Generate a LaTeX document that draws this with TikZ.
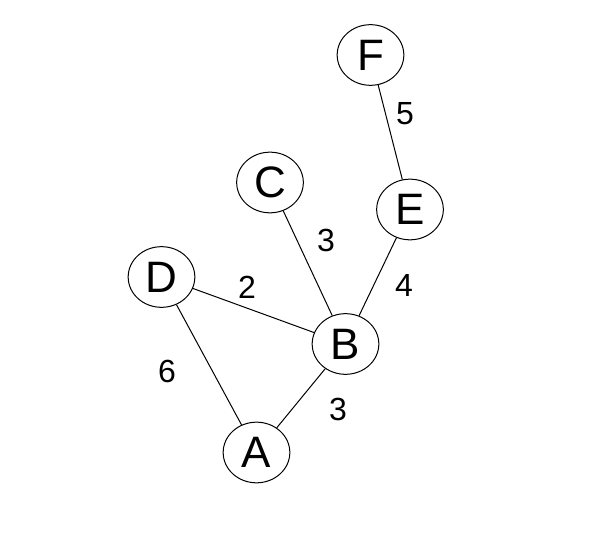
\documentclass[tikz,border=0pt]{standalone}
\usepackage{fontspec}
\setmainfont{Liberation Sans}
\usetikzlibrary{shapes.geometric}
\begin{document}
\begin{tikzpicture}[x=0.75pt,y=-0.75pt,
  vertex/.style={ellipse,draw,line width=0.75pt,minimum width=50pt,minimum height=45.5pt,inner sep=0pt,font=\fontsize{33}{33}\selectfont},
  wlabel/.style={inner sep=0pt,font=\fontsize{24}{24}\selectfont},
  link/.style={line width=0.75pt}]
\useasboundingbox (0,0) rectangle (594,538);
\node[vertex] (F) at (370.5,55) {F};
\node[vertex] (C) at (270,182.5) {C};
\node[vertex] (E) at (410,209.5) {E};
\node[vertex] (D) at (161.5,277) {D};
\node[vertex] (B) at (345.5,344) {B};
\node[vertex] (A) at (256.5,452.5) {A};
\draw[link] (F) -- (E);
\draw[link] (E) -- (B);
\draw[link] (C) -- (B);
\draw[link] (D) -- (B);
\draw[link] (D) -- (A);
\draw[link] (A) -- (B);
\node[wlabel] (w5) at (405,114) {5};
\node[wlabel] (w3a) at (326,240) {3};
\node[wlabel] (w4) at (404,285) {4};
\node[wlabel] (w2) at (247,287) {2};
\node[wlabel] (w6) at (167,371) {6};
\node[wlabel] (w3b) at (338,409) {3};
\end{tikzpicture}
\end{document}
